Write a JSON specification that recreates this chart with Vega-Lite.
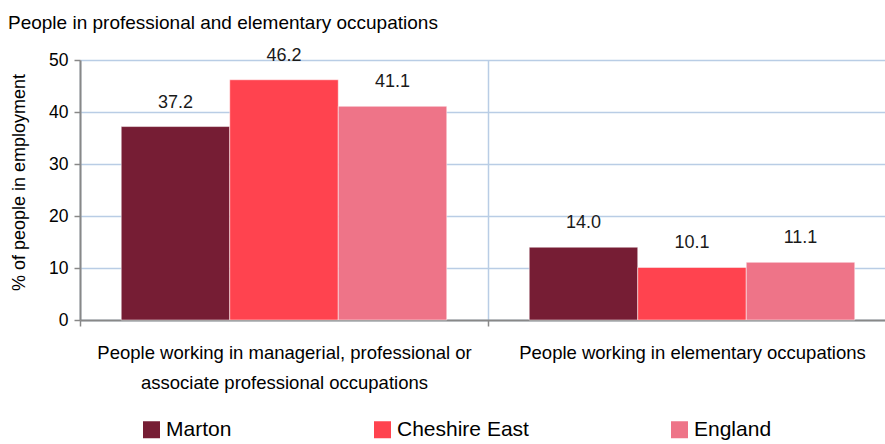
{
  "$schema": "https://vega.github.io/schema/vega-lite/v6.json",
  "width": 805,
  "height": 260,
  "autosize": {"type": "none"},
  "padding": {"left": 80, "top": 60, "right": 0, "bottom": 124},
  "background": "white",
  "title": {
    "text": "People in professional and elementary occupations",
    "anchor": "start",
    "frame": "group",
    "dx": -72,
    "dy": 21,
    "offset": 20,
    "baseline": "alphabetic",
    "fontSize": 19,
    "fontWeight": "normal",
    "font": "Liberation Sans",
    "color": "#000000"
  },
  "config": {
    "font": "Liberation Sans",
    "view": {"stroke": null},
    "axis": {"labelFont": "Liberation Sans", "titleFont": "Liberation Sans", "labelColor": "#000000", "titleColor": "#000000"}
  },
  "data": {
    "values": [
      {"occupation": "People working in managerial,  professional or associate professional occupations", "area": "Marton", "percent": 37.2},
      {"occupation": "People working in managerial,  professional or associate professional occupations", "area": "Cheshire East", "percent": 46.2},
      {"occupation": "People working in managerial,  professional or associate professional occupations", "area": "England", "percent": 41.1},
      {"occupation": "People working in elementary occupations", "area": "Marton", "percent": 14.0},
      {"occupation": "People working in elementary occupations", "area": "Cheshire East", "percent": 10.1},
      {"occupation": "People working in elementary occupations", "area": "England", "percent": 11.1}
    ]
  },
  "encoding": {
    "x": {
      "field": "occupation",
      "type": "nominal",
      "sort": null,
      "scale": {"paddingInner": 0, "paddingOuter": 0, "range": [0, 816]},
      "axis": {
        "title": null,
        "labelAngle": 0,
        "tickBand": "extent",
        "grid": true,
        "gridColor": "#b9cde5",
        "gridWidth": 1.5,
        "tickSize": 6,
        "tickColor": "#888888",
        "tickWidth": 1.5,
        "domainColor": "#888888",
        "domainWidth": 2,
        "labelFontSize": 18.5,
        "labelLineHeight": 30,
        "labelPadding": 17,
        "labelBaseline": "top",
        "labelLimit": 600,
        "labelExpr": "indexof(datum.label, ' or ') > 0 ? [substring(datum.label, 0, indexof(datum.label, ' or ') + 3), substring(datum.label, indexof(datum.label, ' or ') + 4)] : datum.label"
      }
    },
    "xOffset": {
      "field": "area",
      "type": "nominal",
      "sort": ["Marton", "Cheshire East", "England"],
      "scale": {"paddingOuter": 0.38, "paddingInner": 0}
    },
    "y": {
      "field": "percent",
      "type": "quantitative",
      "scale": {"domain": [0, 50], "nice": false},
      "axis": {
        "title": "% of people in employment",
        "titleFontSize": 18,
        "titleFontWeight": "normal",
        "titlePadding": 20,
        "titleY": 122,
        "values": [0, 10, 20, 30, 40, 50],
        "labelFontSize": 17.5,
        "labelPadding": 6,
        "tickSize": 6,
        "tickColor": "#888888",
        "tickWidth": 1.5,
        "domainColor": "#888888",
        "domainWidth": 2,
        "gridColor": "#b9cde5",
        "gridWidth": 1.5
      }
    }
  },
  "layer": [
    {
      "mark": {"type": "bar", "stroke": "#ffffff", "strokeWidth": 0.5},
      "encoding": {
        "color": {
          "field": "area",
          "type": "nominal",
          "sort": ["Marton", "Cheshire East", "England"],
          "scale": {"domain": ["Marton", "Cheshire East", "England"], "range": ["#761D34", "#FF434F", "#EE7488"]},
          "legend": {
            "title": null,
            "orient": "none",
            "legendX": 61,
            "legendY": 359,
            "direction": "horizontal",
            "symbolType": "square",
            "symbolSize": 289,
            "symbolStrokeWidth": 0,
            "labelFontSize": 21,
            "labelFont": "Liberation Sans",
            "labelColor": "#000000",
            "labelOffset": 4,
            "columnPadding": 140,
            "labelLimit": 300
          }
        }
      }
    },
    {
      "mark": {"type": "text", "baseline": "alphabetic", "dy": -19, "fontSize": 18, "color": "#1a1a1a", "font": "Liberation Sans"},
      "encoding": {
        "text": {"field": "percent", "type": "quantitative", "format": ".1f"}
      }
    }
  ]
}
